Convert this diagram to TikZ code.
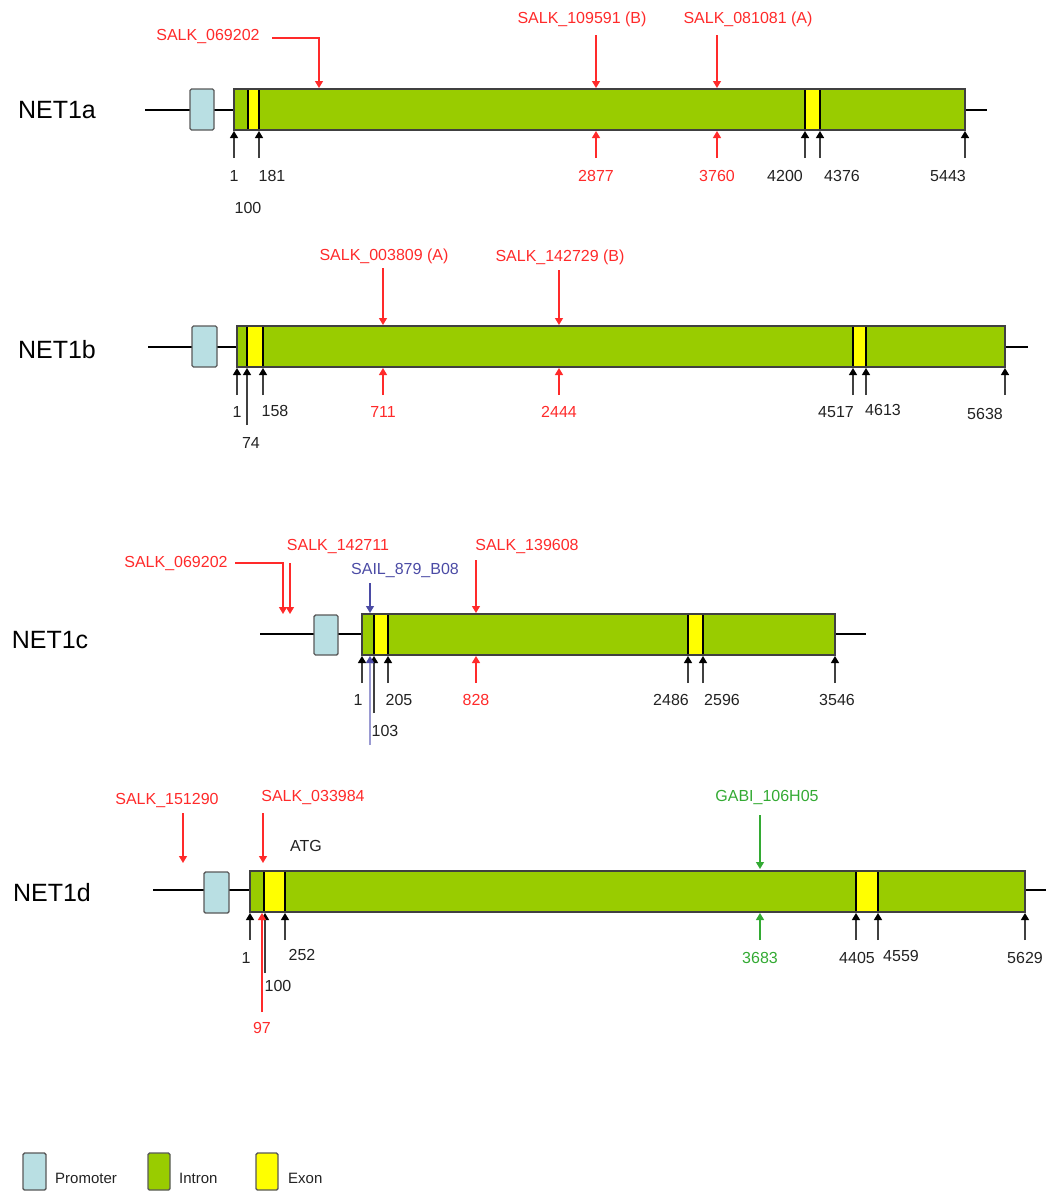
\documentclass[tikz,border=0pt]{standalone}
\usepackage{fontspec}
\setmainfont{Liberation Sans}
\usetikzlibrary{arrows.meta}
\definecolor{intronc}{HTML}{99CC00}
\definecolor{exonc}{HTML}{FFFF00}
\definecolor{promc}{HTML}{B9DFE3}
\definecolor{redc}{HTML}{FF2A2A}
\definecolor{greenc}{HTML}{33AA33}
\definecolor{bluec}{HTML}{4B4BA5}
\definecolor{lbluec}{HTML}{9A9AD2}
\definecolor{txtc}{HTML}{222222}
\tikzset{
  backbone/.style={line width=2pt,black},
  intronbox/.style={fill=intronc,draw=black!75,line width=1.4pt},
  exonbox/.style={fill=exonc,draw=none},
  exonedge/.style={line width=1.8pt,black},
  promoterbox/.style={fill=promc,draw=black!65,line width=1.4pt,rounded corners=1.5pt},
  blkarr/.style={draw=black!75,line width=1.4pt,-{Triangle[width=8pt,length=7pt,color=black]}},
  redarr/.style={draw=redc,line width=1.3pt,-{Triangle[width=8pt,length=7pt]}},
  grnarr/.style={draw=greenc,line width=1.3pt,-{Triangle[width=8pt,length=7pt]}},
  bluarr/.style={draw=bluec,line width=1.3pt,-{Triangle[width=8pt,length=7pt]}},
  lbluarr/.style={draw=lbluec,line width=1.4pt,-{Triangle[width=8pt,length=7pt,color=bluec]}},
  lab/.style={inner sep=0pt,font=\fontsize{16}{18}\selectfont,text=txtc},
  redlab/.style={lab,text=redc},
  grnlab/.style={lab,text=greenc},
  blulab/.style={lab,text=bluec},
  genename/.style={inner sep=0pt,font=\fontsize{25}{28}\selectfont,text=black},
  leglab/.style={inner sep=0pt,anchor=west,font=\fontsize{15}{17}\selectfont,text=txtc},
}
\newcommand\mkarr[6]{% name, x, y-from, y-to, style
  \coordinate (#1s) at (#2,#3);
  \coordinate (#1e) at (#2,#4);
  \draw[#5] (#1s) -- (#1e);}
\begin{document}
\begin{tikzpicture}[x=1pt,y=-1pt]
\useasboundingbox (0,0) rectangle (1051,1192);

% ================= NET1a =================
\node[genename] (nA) at (57,110) {NET1a};
\coordinate (aL) at (145,110); \coordinate (aR) at (987,110);
\draw[backbone] (aL) -- (aR);
\draw[promoterbox] (190,89) rectangle (214,130);
\draw[intronbox] (234,89) rectangle (965,130);
\fill[exonc] (248,89) rectangle (259,130);
\fill[exonc] (805,89) rectangle (820,130);
\draw[exonedge] (248,89) -- (248,130) (259,89) -- (259,130) (805,89) -- (805,130) (820,89) -- (820,130);
\draw[black!75,line width=1.4pt] (234,89) rectangle (965,130);
\mkarr{a1}{234}{158}{131}{blkarr}{}
\mkarr{a181}{259}{158}{131}{blkarr}{}
\mkarr{a4200}{805}{158}{131}{blkarr}{}
\mkarr{a4376}{820}{158}{131}{blkarr}{}
\mkarr{a5443}{965}{158}{131}{blkarr}{}
\mkarr{a2877}{596}{158}{131}{redarr}{}
\mkarr{a3760}{717}{158}{131}{redarr}{}
\node[lab] (ta1) at (234,176) {1};
\node[lab] (ta181) at (272,176) {181};
\node[lab] (ta100) at (248,208) {100};
\node[redlab] (ta2877) at (596,176) {2877};
\node[redlab] (ta3760) at (717,176) {3760};
\node[lab] (ta4200) at (785,176) {4200};
\node[lab] (ta4376) at (842,176) {4376};
\node[lab] (ta5443) at (948,176) {5443};
\node[redlab] (sa1) at (208,37) {SALK\_069202};
\node[redlab] (sa2) at (582,19) {SALK\_109591 (B)};
\node[redlab] (sa3) at (748,19) {SALK\_081081 (A)};
\coordinate (sa1s) at (272,38); \coordinate (sa1e) at (319,88);
\draw[redarr] (sa1s) -| (sa1e);
\mkarr{sa2a}{596}{35}{88}{redarr}{}
\mkarr{sa3a}{717}{35}{88}{redarr}{}

% ================= NET1b =================
\node[genename] (nB) at (57,350) {NET1b};
\coordinate (bL) at (148,347); \coordinate (bR) at (1028,347);
\draw[backbone] (bL) -- (bR);
\draw[promoterbox] (192,326) rectangle (217,367);
\draw[intronbox] (237,326) rectangle (1005,367);
\fill[exonc] (247,326) rectangle (263,367);
\fill[exonc] (853,326) rectangle (866,367);
\draw[exonedge] (247,326) -- (247,367) (263,326) -- (263,367) (853,326) -- (853,367) (866,326) -- (866,367);
\draw[black!75,line width=1.4pt] (237,326) rectangle (1005,367);
\mkarr{b1}{237}{395}{368}{blkarr}{}
\mkarr{b74}{247}{425}{368}{blkarr}{}
\mkarr{b158}{263}{395}{368}{blkarr}{}
\mkarr{b4517}{853}{395}{368}{blkarr}{}
\mkarr{b4613}{866}{395}{368}{blkarr}{}
\mkarr{b5638}{1005}{395}{368}{blkarr}{}
\mkarr{b711}{383}{395}{368}{redarr}{}
\mkarr{b2444}{559}{395}{368}{redarr}{}
\node[lab] (tb1) at (237,412) {1};
\node[lab] (tb158) at (275,411) {158};
\node[lab] (tb74) at (251,443) {74};
\node[redlab] (tb711) at (383,412) {711};
\node[redlab] (tb2444) at (559,412) {2444};
\node[lab] (tb4517) at (836,412) {4517};
\node[lab] (tb4613) at (883,410) {4613};
\node[lab] (tb5638) at (985,414) {5638};
\node[redlab] (sb1) at (384,256) {SALK\_003809 (A)};
\node[redlab] (sb2) at (560,257) {SALK\_142729 (B)};
\mkarr{sb1a}{383}{268}{325}{redarr}{}
\mkarr{sb2a}{559}{270}{325}{redarr}{}

% ================= NET1c =================
\node[genename] (nC) at (50,640) {NET1c};
\coordinate (cL) at (260,634); \coordinate (cR) at (866,634);
\draw[backbone] (cL) -- (cR);
\draw[promoterbox] (314,615) rectangle (338,655);
\draw[intronbox] (362,614) rectangle (835,655);
\fill[exonc] (374,614) rectangle (388,655);
\fill[exonc] (688,614) rectangle (703,655);
\draw[exonedge] (374,614) -- (374,655) (388,614) -- (388,655) (688,614) -- (688,655) (703,614) -- (703,655);
\draw[black!75,line width=1.4pt] (362,614) rectangle (835,655);
\mkarr{c1}{362}{683}{656}{blkarr}{}
\mkarr{c103}{374}{713}{656}{blkarr}{}
\mkarr{c205}{388}{683}{656}{blkarr}{}
\mkarr{c2486}{688}{683}{656}{blkarr}{}
\mkarr{c2596}{703}{683}{656}{blkarr}{}
\mkarr{c3546}{835}{683}{656}{blkarr}{}
\mkarr{c828}{476}{683}{656}{redarr}{}
\mkarr{csail}{370}{745}{656}{lbluarr}{}
\node[lab] (tc1) at (358,700) {1};
\node[lab] (tc205) at (399,700) {205};
\node[lab] (tc103) at (385,731) {103};
\node[redlab] (tc828) at (476,700) {828};
\node[lab] (tc2486) at (671,700) {2486};
\node[lab] (tc2596) at (722,700) {2596};
\node[lab] (tc3546) at (837,700) {3546};
\node[redlab] (sc1) at (176,563) {SALK\_069202};
\node[redlab] (sc2) at (338,546) {SALK\_142711};
\node[blulab] (sc3) at (405,570) {SAIL\_879\_B08};
\node[redlab] (sc4) at (527,546) {SALK\_139608};
\coordinate (sc1s) at (235,563); \coordinate (sc1e) at (283,614);
\draw[redarr] (sc1s) -| (sc1e);
\mkarr{sc2a}{290}{563}{614}{redarr}{}
\mkarr{sc3a}{370}{583}{613}{bluarr}{}
\mkarr{sc4a}{476}{560}{613}{redarr}{}

% ================= NET1d =================
\node[genename] (nD) at (52,893) {NET1d};
\coordinate (dL) at (153,890); \coordinate (dR) at (1046,890);
\draw[backbone] (dL) -- (dR);
\draw[promoterbox] (204,872) rectangle (229,913);
\draw[intronbox] (250,871) rectangle (1025,912);
\fill[exonc] (264,871) rectangle (285,912);
\fill[exonc] (856,871) rectangle (878,912);
\draw[exonedge] (264,871) -- (264,912) (285,871) -- (285,912) (856,871) -- (856,912) (878,871) -- (878,912);
\draw[black!75,line width=1.4pt] (250,871) rectangle (1025,912);
\mkarr{d1}{250}{940}{913}{blkarr}{}
\mkarr{d100}{265}{973}{913}{blkarr}{}
\mkarr{d252}{285}{940}{913}{blkarr}{}
\mkarr{d4405}{856}{940}{913}{blkarr}{}
\mkarr{d4559}{878}{940}{913}{blkarr}{}
\mkarr{d5629}{1025}{940}{913}{blkarr}{}
\mkarr{d97}{262}{1012}{913}{redarr}{}
\mkarr{d3683}{760}{940}{913}{grnarr}{}
\node[lab] (td1) at (246,958) {1};
\node[lab] (td252) at (302,955) {252};
\node[lab] (td100) at (278,986) {100};
\node[redlab] (td97) at (262,1028) {97};
\node[grnlab] (td3683) at (760,958) {3683};
\node[lab] (td4405) at (857,958) {4405};
\node[lab] (td4559) at (901,956) {4559};
\node[lab] (td5629) at (1025,958) {5629};
\node[redlab] (sd1) at (167,800) {SALK\_151290};
\node[redlab] (sd2) at (313,797) {SALK\_033984};
\node[lab] (atg) at (306,846) {ATG};
\node[grnlab] (sd3) at (767,797) {GABI\_106H05};
\mkarr{sd1a}{183}{813}{863}{redarr}{}
\mkarr{sd2a}{263}{813}{863}{redarr}{}
\mkarr{sd3a}{760}{815}{869}{grnarr}{}

% ================= Legend =================
\draw[promoterbox] (23,1153) rectangle (46,1190);
\node[leglab] (lg1) at (55,1178) {Promoter};
\draw[promoterbox,fill=intronc] (148,1153) rectangle (170,1190);
\node[leglab] (lg2) at (179,1178) {Intron};
\draw[promoterbox,fill=exonc] (256,1153) rectangle (278,1190);
\node[leglab] (lg3) at (288,1178) {Exon};
\end{tikzpicture}
\end{document}
